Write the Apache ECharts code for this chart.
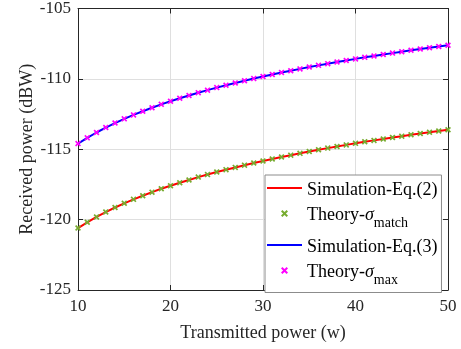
<!DOCTYPE html>
<html>
<head>
<meta charset="utf-8">
<script src="https://cdn.jsdelivr.net/npm/echarts@6/dist/echarts.min.js"></script>
<style>html,body{margin:0;padding:0;background:#fff}#c{width:461px;height:349px}</style>
</head>
<body>
<div id="c"></div>
<script>
// Transmitted power (w)
var xValues = [10,11,12,13,14,15,16,17,18,19,20,21,22,23,24,25,26,27,28,29,30,31,32,33,34,35,36,37,38,39,40,41,42,43,44,45,46,47,48,49,50];
// Simulation-Eq.(2) / Theory-sigma_match (dBW)
var simEq2 = [-120.60,-120.19,-119.81,-119.46,-119.14,-118.84,-118.56,-118.30,-118.05,-117.81,-117.59,-117.38,-117.18,-116.98,-116.80,-116.62,-116.45,-116.29,-116.13,-115.98,-115.83,-115.69,-115.55,-115.42,-115.29,-115.16,-115.04,-114.92,-114.80,-114.69,-114.58,-114.47,-114.37,-114.27,-114.17,-114.07,-113.97,-113.88,-113.79,-113.70,-113.61];
var theoryMatch = [-120.60,-120.19,-119.81,-119.46,-119.14,-118.84,-118.56,-118.30,-118.05,-117.81,-117.59,-117.38,-117.18,-116.98,-116.80,-116.62,-116.45,-116.29,-116.13,-115.98,-115.83,-115.69,-115.55,-115.42,-115.29,-115.16,-115.04,-114.92,-114.80,-114.69,-114.58,-114.47,-114.37,-114.27,-114.17,-114.07,-113.97,-113.88,-113.79,-113.70,-113.61];
// Simulation-Eq.(3) / Theory-sigma_max (dBW)
var simEq3 = [-114.60,-114.19,-113.81,-113.46,-113.14,-112.84,-112.56,-112.30,-112.05,-111.81,-111.59,-111.38,-111.18,-110.98,-110.80,-110.62,-110.45,-110.29,-110.13,-109.98,-109.83,-109.69,-109.55,-109.42,-109.29,-109.16,-109.04,-108.92,-108.80,-108.69,-108.58,-108.47,-108.37,-108.27,-108.17,-108.07,-107.97,-107.88,-107.79,-107.70,-107.61];
var theoryMax = [-114.60,-114.19,-113.81,-113.46,-113.14,-112.84,-112.56,-112.30,-112.05,-111.81,-111.59,-111.38,-111.18,-110.98,-110.80,-110.62,-110.45,-110.29,-110.13,-109.98,-109.83,-109.69,-109.55,-109.42,-109.29,-109.16,-109.04,-108.92,-108.80,-108.69,-108.58,-108.47,-108.37,-108.27,-108.17,-108.07,-107.97,-107.88,-107.79,-107.70,-107.61];
var xTicks = [10,20,30,40,50];
var yTicks = [-125,-120,-115,-110,-105];

function pairs(xs, ys){ return xs.map(function(x,i){ return [x, ys[i]]; }); }

var FONT = '"Liberation Serif","Times New Roman",serif';
var TXT = '#262626';
var XSYM = 'path://M0,2L2,0L5,3L8,0L10,2L7,5L10,8L8,10L5,7L2,10L0,8L3,5Z';
var LINEICON = 'path://M0,0L0.01,0Z M0,2.5L35,2.5L35,4.5L0,4.5Z M0,7L0.01,7Z';

var chart = echarts.init(document.getElementById('c'), null, {renderer:'canvas'});
var axisLine = {show:true, lineStyle:{color:TXT, width:1}};
chart.setOption({
  animation:false,
  backgroundColor:'#fff',
  textStyle:{fontFamily:FONT, color:TXT},
  grid:{left:78, right:13, top:6, bottom:59, containLabel:false},
  legend:{
    orient:'vertical', left:265, top:175,
    padding:[6,4,5,2], itemGap:7.5, itemWidth:35, itemHeight:7,
    backgroundColor:'#fff', borderColor:'#8c8c8c', borderWidth:1, borderRadius:0,
    data:[
      {name:'Simulation-Eq.(2)', icon:LINEICON},
      {name:'Theory-match'},
      {name:'Simulation-Eq.(3)', icon:LINEICON},
      {name:'Theory-max'}
    ],
    formatter:function(n){
      if(n==='Theory-match') return '{a|Theory-}{s|σ}{b|match}';
      if(n==='Theory-max') return '{a|Theory-}{s|σ}{b|max}';
      return '{a|'+n+'}';
    },
    textStyle:{fontFamily:FONT, color:'#000', fontSize:18,
      rich:{
        a:{fontFamily:FONT, fontSize:18, color:'#000', lineHeight:14, verticalAlign:'top'},
        s:{fontFamily:FONT, fontSize:18, fontStyle:'italic', color:'#000', lineHeight:14, verticalAlign:'top'},
        b:{fontFamily:FONT, fontSize:14, color:'#000', lineHeight:12, verticalAlign:'top', padding:[10,0,0,0]}
      }}
  },
  xAxis:[{
    type:'value', min:10, max:50, interval:10, position:'bottom',
    name:'Transmitted power (w)', nameLocation:'middle', nameGap:34, nameMoveOverlap:false,
    nameTextStyle:{fontFamily:FONT, fontSize:18, color:TXT},
    axisLine:axisLine, axisTick:{show:true, inside:true, length:5, lineStyle:{color:TXT}},
    axisLabel:{fontFamily:FONT, fontSize:17, color:TXT, margin:8,
      formatter:function(v){ return xTicks.indexOf(v)>=0 ? String(v) : ''; }},
    splitLine:{show:true, lineStyle:{color:'#dfdfdf', width:1}}
  },{
    type:'value', min:10, max:50, interval:10, position:'top',
    axisLine:axisLine, axisTick:{show:true, inside:true, length:5, lineStyle:{color:TXT}},
    axisLabel:{show:false}, splitLine:{show:false}
  }],
  yAxis:[{
    type:'value', min:-125, max:-105, interval:5, position:'left',
    name:'Received power (dBW)', nameLocation:'middle', nameGap:42, nameRotate:90, nameMoveOverlap:false,
    nameTextStyle:{fontFamily:FONT, fontSize:18, color:TXT},
    axisLine:axisLine, axisTick:{show:true, inside:true, length:5, lineStyle:{color:TXT}},
    axisLabel:{fontFamily:FONT, fontSize:17, color:TXT, margin:7,
      formatter:function(v){ return yTicks.indexOf(v)>=0 ? String(v) : ''; }},
    splitLine:{show:true, lineStyle:{color:'#dfdfdf', width:1}}
  },{
    type:'value', min:-125, max:-105, interval:5, position:'right',
    axisLine:axisLine, axisTick:{show:true, inside:true, length:5, lineStyle:{color:TXT}},
    axisLabel:{show:false}, splitLine:{show:false}
  }],
  series:[
    {name:'Simulation-Eq.(2)', type:'line', data:pairs(xValues, simEq2), showSymbol:false, symbol:'none',
     lineStyle:{color:'#ff0000', width:2}, itemStyle:{color:'#ff0000'}, z:2},
    {name:'Theory-match', type:'scatter', data:pairs(xValues, theoryMatch), symbol:XSYM, symbolSize:6, symbolKeepAspect:true,
     itemStyle:{color:'#77ac30', opacity:1}, z:3},
    {name:'Simulation-Eq.(3)', type:'line', data:pairs(xValues, simEq3), showSymbol:false, symbol:'none',
     lineStyle:{color:'#0000ff', width:2}, itemStyle:{color:'#0000ff'}, z:2},
    {name:'Theory-max', type:'scatter', data:pairs(xValues, theoryMax), symbol:XSYM, symbolSize:6, symbolKeepAspect:true,
     itemStyle:{color:'#ff00ff', opacity:1}, z:3}
  ]
});
</script>
</body>
</html>
